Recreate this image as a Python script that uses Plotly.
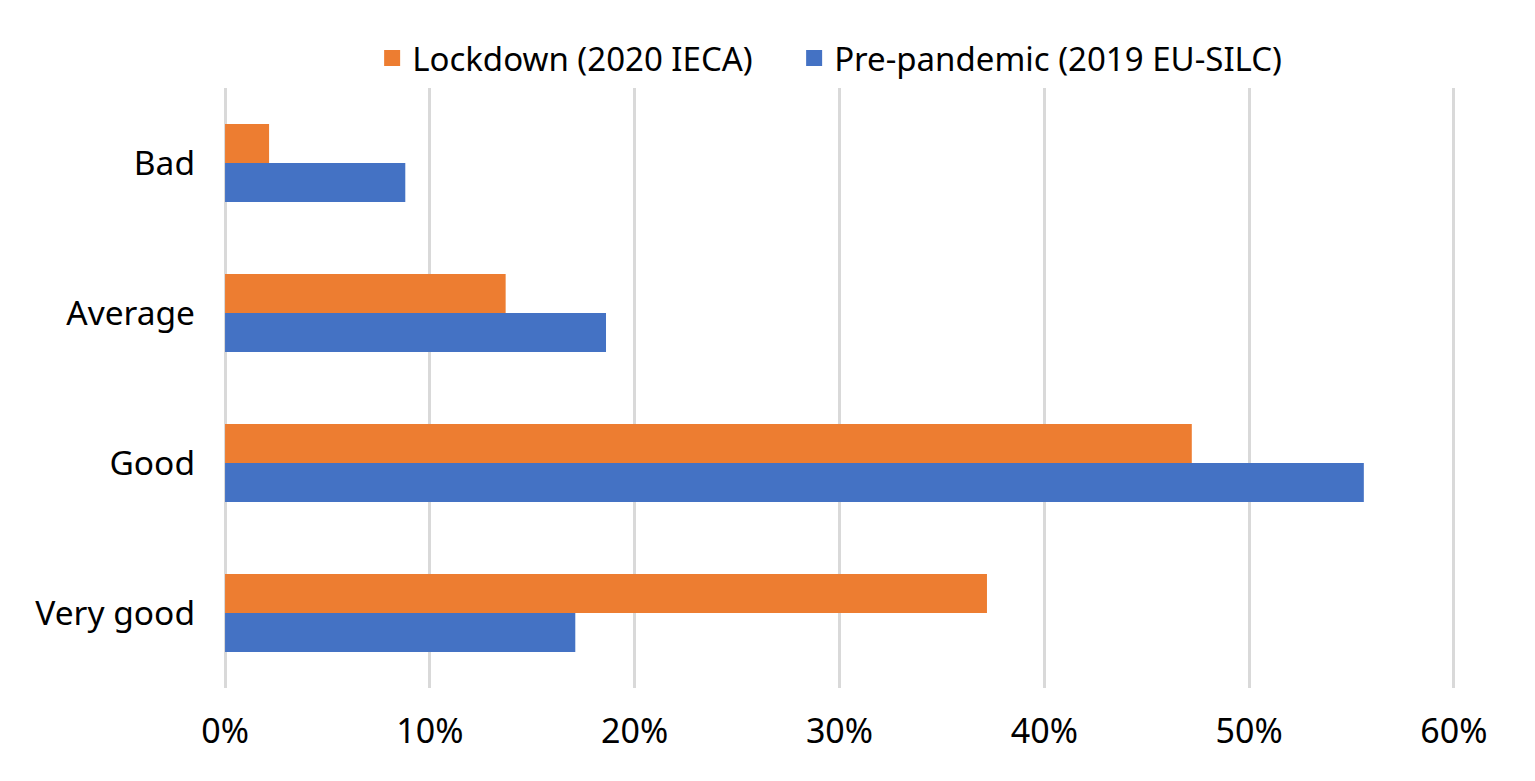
import plotly.graph_objects as go

categories = ["Bad", "Average", "Good", "Very good"]
lockdown = [0.0215, 0.137, 0.472, 0.372]
prepandemic = [0.088, 0.186, 0.556, 0.171]
series_names = ["Lockdown (2020 IECA)", "Pre-pandemic (2019 EU-SILC)"]
colors = ["#ED7D31", "#4472C4"]
x_ticks = [0, 0.1, 0.2, 0.3, 0.4, 0.5, 0.6]

font_family = "Noto Sans, Open Sans, sans-serif"

fig = go.Figure()
# bars (legend drawn by marker-only helper traces for larger square symbols)
fig.add_trace(go.Bar(y=categories, x=lockdown, name=series_names[0], orientation="h",
                     marker=dict(color=colors[0], line=dict(width=0)), showlegend=False))
fig.add_trace(go.Bar(y=categories, x=prepandemic, name=series_names[1], orientation="h",
                     marker=dict(color=colors[1], line=dict(width=0)), showlegend=False))
# legend entries
fig.add_trace(go.Scatter(x=[None], y=[None], mode="markers", name=series_names[0],
                         marker=dict(symbol="square", size=18, color=colors[0]),
                         legendwidth=377))
fig.add_trace(go.Scatter(x=[None], y=[None], mode="markers", name=series_names[1],
                         marker=dict(symbol="square", size=18, color=colors[1])))

W, H = 1520, 766
fig.update_layout(
    width=W, height=H,
    paper_bgcolor="white", plot_bgcolor="white",
    margin=dict(l=215, r=W - 1448, t=80, b=H - 680),
    barmode="group", bargap=0.48, bargroupgap=0,
    font=dict(family=font_family, color="black", size=33),
    legend=dict(orientation="h", x=0.492, xanchor="center", y=1.05, yanchor="middle",
                font=dict(size=33), itemwidth=30, traceorder="normal"),
    showlegend=True,
)
fig.update_xaxes(range=[-0.001, 0.601], tickvals=x_ticks, tickformat=".0%",
                 showgrid=True, gridcolor="#D9D9D9", gridwidth=3,
                 zeroline=False, showline=False, ticks="",
                 ticklabelstandoff=20, tickfont=dict(size=34))
fig.update_yaxes(categoryorder="array", categoryarray=categories, autorange="reversed",
                 showgrid=False, zeroline=False, showline=False, ticks="",
                 ticklabelstandoff=27, tickfont=dict(size=33.5))

fig.write_html("out.html")
